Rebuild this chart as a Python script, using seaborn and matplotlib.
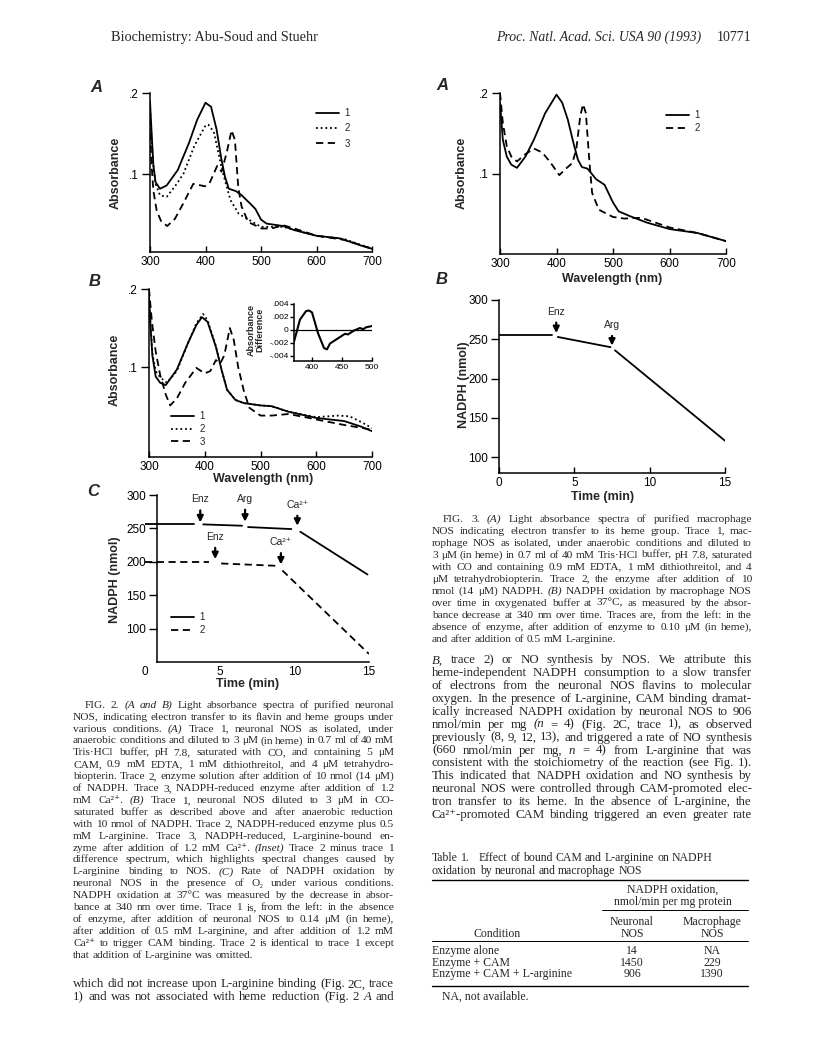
import numpy as np
import pandas as pd
import seaborn as sns
import matplotlib.pyplot as plt
from matplotlib.lines import Line2D

W, H = 816, 1055

# ---- Fig 2A spectra (wavelength nm, absorbance)
wl_2a_1 = [300, 303, 306, 310, 318, 330, 350, 370, 385, 400, 410, 420, 428, 435, 442, 455, 465, 480, 490, 500, 510, 540, 560, 600, 640, 650, 680, 700]
ab_2a_1 = [0.19, 0.15, 0.112, 0.09, 0.082, 0.086, 0.105, 0.138, 0.167, 0.188, 0.183, 0.155, 0.121, 0.097, 0.082, 0.079, 0.074, 0.064, 0.057, 0.044, 0.039, 0.036, 0.031, 0.024, 0.021, 0.019, 0.012, 0.008]
wl_2a_2 = [300, 303, 306, 310, 318, 330, 345, 360, 380, 400, 405, 415, 430, 445, 460, 480, 500, 540, 600, 650, 700]
ab_2a_2 = [0.18, 0.14, 0.11, 0.088, 0.074, 0.072, 0.085, 0.1, 0.135, 0.16, 0.161, 0.152, 0.105, 0.068, 0.051, 0.043, 0.035, 0.035, 0.024, 0.02, 0.008]
wl_2a_3 = [300, 303, 306, 312, 320, 331, 345, 360, 378, 399, 408, 421, 429, 438, 447, 453, 459, 465, 477, 501, 519, 540, 560, 600, 650, 700]
ab_2a_3 = [0.15, 0.11, 0.08, 0.055, 0.042, 0.036, 0.045, 0.064, 0.088, 0.085, 0.09, 0.11, 0.103, 0.126, 0.154, 0.142, 0.084, 0.06, 0.041, 0.033, 0.033, 0.037, 0.033, 0.024, 0.019, 0.008]

# ---- Fig 2B spectra
wl_2b_1 = [300, 303, 306, 312, 320, 330, 350, 370, 385, 395, 405, 420, 430, 440, 455, 470, 500, 520, 550, 600, 650, 680, 700]
ab_2b_1 = [0.19, 0.15, 0.115, 0.088, 0.08, 0.077, 0.097, 0.131, 0.154, 0.164, 0.158, 0.126, 0.097, 0.071, 0.058, 0.054, 0.051, 0.05, 0.043, 0.035, 0.031, 0.024, 0.018]
wl_2b_2 = [300, 303, 306, 312, 320, 332, 350, 370, 385, 397, 405, 420, 430, 440, 455, 470, 500, 520, 550, 600, 640, 660, 680, 700]
ab_2b_2 = [0.19, 0.15, 0.118, 0.095, 0.087, 0.08, 0.095, 0.131, 0.156, 0.168, 0.16, 0.127, 0.097, 0.071, 0.058, 0.054, 0.051, 0.05, 0.043, 0.036, 0.038, 0.037, 0.03, 0.022]
wl_2b_3 = [300, 305, 312, 320, 330, 338, 350, 365, 385, 400, 410, 420, 428, 435, 445, 452, 460, 470, 480, 500, 520, 550, 580, 600, 650, 700]
ab_2b_3 = [0.2, 0.16, 0.12, 0.09, 0.065, 0.051, 0.06, 0.08, 0.099, 0.092, 0.095, 0.109, 0.105, 0.115, 0.15, 0.135, 0.1, 0.07, 0.048, 0.038, 0.038, 0.04, 0.036, 0.033, 0.026, 0.02]

# ---- Fig 2B inset (difference spectrum)
wl_in = [370, 380, 390, 395, 400, 410, 420, 425, 430, 440, 450, 455, 460, 470, 480, 485, 490, 500]
df_in = [-0.0018, 0.0016, 0.0029, 0.003, 0.0027, -0.0005, -0.0028, -0.003, -0.0021, -0.0015, -0.0009, -0.0006, -0.0007, -0.0001, 0.0003, 0.0001, 0.0004, 0.0006]

# ---- Fig 3A spectra
wl_3a_1 = [300, 305, 312, 320, 330, 345, 360, 380, 400, 410, 420, 430, 438, 445, 455, 470, 485, 500, 510, 530, 560, 600, 650, 700]
ab_3a_1 = [0.188, 0.142, 0.121, 0.111, 0.107, 0.121, 0.142, 0.175, 0.198, 0.188, 0.167, 0.138, 0.117, 0.108, 0.106, 0.093, 0.086, 0.064, 0.053, 0.047, 0.039, 0.031, 0.026, 0.016]
wl_3a_2 = [300, 305, 312, 320, 330, 345, 360, 375, 390, 405, 415, 428, 435, 442, 447, 452, 458, 463, 475, 500, 520, 550, 600, 650, 700]
ab_3a_2 = [0.2, 0.163, 0.134, 0.121, 0.115, 0.124, 0.131, 0.126, 0.113, 0.098, 0.105, 0.113, 0.13, 0.171, 0.186, 0.175, 0.117, 0.076, 0.055, 0.046, 0.044, 0.045, 0.033, 0.026, 0.016]

# ---- Fig 2C NADPH traces (time min, nmol, segment id)
t_2c_1 = [0, 3.3, 3.9, 6.5, 6.9, 9.8, 10.4, 14.9]
v_2c_1 = [256, 256, 256, 254, 252, 249, 245, 181]
s_2c_1 = [0, 0, 1, 1, 2, 2, 3, 3]
t_2c_2 = [0, 4.3, 5.1, 8.8, 9.2, 15]
v_2c_2 = [200, 200, 197.5, 194, 187, 62]
s_2c_2 = [0, 0, 1, 1, 2, 2]
ev_2c_lab = ['Enz', 'Arg', 'Ca²⁺', 'Enz', 'Ca²⁺']
ev_2c_t = [3.7, 6.7, 10.2, 4.7, 9.1]
ev_2c_txt = [286, 287, 278, 230, 222]
ev_2c_head = [259, 260, 254, 204, 196]

# ---- Fig 3B NADPH trace
t_3b = [0, 3.5, 3.9, 7.4, 7.7, 15]
v_3b = [256, 256, 253, 240, 236, 121]
s_3b = [0, 0, 1, 1, 2, 2]
ev_3b_lab = ['Enz', 'Arg']
ev_3b_t = [3.8, 7.5]
ev_3b_txt = [279, 262]
ev_3b_head = [258, 242]

# ---- Table 1
tab_cond = ['Enzyme alone', 'Enzyme + CAM', 'Enzyme + CAM + L-arginine']
tab_neur = ['14', '1450', '906']
tab_macro = ['NA', '229', '1390']

cap2 = [
    "FIG. 2. ~(A ~and ~B) Light absorbance spectra of purified neuronal",
    "NOS, indicating electron transfer to its flavin and heme groups under",
    "various conditions. ~(A) Trace 1, neuronal NOS as isolated, under",
    "anaerobic conditions and diluted to 3 μM (in heme) in 0.7 ml of 40 mM",
    "Tris·HCl buffer, pH 7.8, saturated with CO, and containing 5 μM",
    "CAM, 0.9 mM EDTA, 1 mM dithiothreitol, and 4 μM tetrahydro-",
    "biopterin. Trace 2, enzyme solution after addition of 10 nmol (14 μM)",
    "of NADPH. Trace 3, NADPH-reduced enzyme after addition of 1.2",
    "mM Ca²⁺. ~(B) Trace 1, neuronal NOS diluted to 3 μM in CO-",
    "saturated buffer as described above and after anaerobic reduction",
    "with 10 nmol of NADPH. Trace 2, NADPH-reduced enzyme plus 0.5",
    "mM L-arginine. Trace 3, NADPH-reduced, L-arginine-bound en-",
    "zyme after addition of 1.2 mM Ca²⁺. ~(Inset) Trace 2 minus trace 1",
    "difference spectrum, which highlights spectral changes caused by",
    "L-arginine binding to NOS. ~(C) Rate of NADPH oxidation by",
    "neuronal NOS in the presence of O₂ under various conditions.",
    "NADPH oxidation at 37°C was measured by the decrease in absor-",
    "bance at 340 nm over time. Trace 1 is, from the left: in the absence",
    "of enzyme, after addition of neuronal NOS to 0.14 μM (in heme),",
    "after addition of 0.5 mM L-arginine, and after addition of 1.2 mM",
    "Ca²⁺ to trigger CAM binding. Trace 2 is identical to trace 1 except",
    "that addition of L-arginine was omitted.",
]
cap3 = [
    "FIG. 3. ~(A) Light absorbance spectra of purified macrophage",
    "NOS indicating electron transfer to its heme group. Trace 1, mac-",
    "rophage NOS as isolated, under anaerobic conditions and diluted to",
    "3 μM (in heme) in 0.7 ml of 40 mM Tris·HCl buffer, pH 7.8, saturated",
    "with CO and containing 0.9 mM EDTA, 1 mM dithiothreitol, and 4",
    "μM tetrahydrobiopterin. Trace 2, the enzyme after addition of 10",
    "nmol (14 μM) NADPH. ~(B) NADPH oxidation by macrophage NOS",
    "over time in oxygenated buffer at 37°C, as measured by the absor-",
    "bance decrease at 340 nm over time. Traces are, from the left: in the",
    "absence of enzyme, after addition of enzyme to 0.10 μM (in heme),",
    "and after addition of 0.5 mM L-arginine.",
]
body_left = [
    "which did not increase upon L-arginine binding (Fig. 2C, trace",
    "1) and was not associated with heme reduction (Fig. 2 ~A and",
]
body_right = [
    "~B, trace 2) or NO synthesis by NOS. We attribute this",
    "heme-independent NADPH consumption to a slow transfer",
    "of electrons from the neuronal NOS flavins to molecular",
    "oxygen. In the presence of L-arginine, CAM binding dramat-",
    "ically increased NADPH oxidation by neuronal NOS to 906",
    "nmol/min per mg ~(n = 4) (Fig. 2C, trace 1), as observed",
    "previously (8, 9, 12, 13), and triggered a rate of NO synthesis",
    "(660 nmol/min per mg, ~n = 4) from L-arginine that was",
    "consistent with the stoichiometry of the reaction (see Fig. 1).",
    "This indicated that NADPH oxidation and NO synthesis by",
    "neuronal NOS were controlled through CAM-promoted elec-",
    "tron transfer to its heme. In the absence of L-arginine, the",
    "Ca²⁺-promoted CAM binding triggered an even greater rate",
]

sns.set_theme(style='ticks')
SANS = ['Liberation Sans', 'DejaVu Sans']
SERIF = ['Liberation Serif', 'DejaVu Serif']
plt.rcParams['font.family'] = SANS
plt.rcParams['axes.edgecolor'] = 'black'
plt.rcParams['xtick.color'] = 'black'
plt.rcParams['ytick.color'] = 'black'

fig = plt.figure(figsize=(W / 100, H / 100), dpi=100)
fig.patch.set_facecolor('white')


def fx(x):
    return x / W


def fy(y):
    return 1 - y / H


def ax_at(l, t, r, b):
    return fig.add_axes([l / W, 1 - b / H, (r - l) / W, (b - t) / H])


def style(ax, size=8.5):
    sns.despine(ax=ax)
    for s in ['left', 'bottom']:
        ax.spines[s].set_linewidth(1.1)
        ax.spines[s].set_color('black')
    ax.tick_params(axis='x', direction='in', length=4, width=1, labelsize=size, pad=3)
    ax.tick_params(axis='y', direction='out', length=6, width=1, labelsize=size, pad=2)
    ax.grid(False)
    ax.set_facecolor('white')
    ax.patch.set_alpha(0)


SOLID = '-'
DOT = (0, (1, 1.6))
DASH = (0, (4, 2.5))
LW = 1.3


def spectrum(ax, xs, ys, ls, lab):
    sns.lineplot(x=xs, y=ys, ax=ax, color='black', lw=LW, linestyle=ls, label=lab)


def ylab(ax, txt, xr, yc, size=9):
    ax.set_ylabel(txt, fontsize=size, fontweight='bold')
    ax.yaxis.set_label_coords(fx(xr), fy(yc), transform=fig.transFigure)


def xlab(ax, txt, xc, yt, size=9):
    ax.set_xlabel(txt, fontsize=size, fontweight='bold')
    ax.xaxis.set_label_coords(fx(xc), fy(yt), transform=fig.transFigure)


def legend(ax, x, y, spacing):
    h, l = ax.get_legend_handles_labels()
    ax.legend(h, l, loc='upper left', bbox_to_anchor=(fx(x), fy(y)), bbox_transform=fig.transFigure,
              frameon=False, fontsize=7, handlelength=2.4, handletextpad=0.5, labelspacing=spacing,
              borderpad=0, borderaxespad=0)


def panel(x, y, letter):
    fig.text(fx(x), fy(y), letter, fontsize=12, fontweight='bold', style='italic', ha='center', va='center')


spec_ticks = [300, 400, 500, 600, 700]

# ---------------- Fig 2A
ax = ax_at(150, 93, 372, 252)
spectrum(ax, wl_2a_1, ab_2a_1, SOLID, '1')
spectrum(ax, wl_2a_2, ab_2a_2, DOT, '2')
spectrum(ax, wl_2a_3, ab_2a_3, DASH, '3')
ax.set_xlim(300, 700)
ax.set_ylim(0.004, 0.2)
ax.set_xticks(spec_ticks)
ax.set_yticks([0.1, 0.2], ['.1', '.2'])
style(ax)
ylab(ax, 'Absorbance', 122, 173)
ax.set_xlabel('')
legend(ax, 316, 108, 0.55)
panel(96, 87, 'A')

# ---------------- Fig 2B
ax = ax_at(149, 289, 372, 457)
spectrum(ax, wl_2b_1, ab_2b_1, SOLID, '1')
spectrum(ax, wl_2b_2, ab_2b_2, DOT, '2')
spectrum(ax, wl_2b_3, ab_2b_3, DASH, '3')
ax.set_xlim(300, 700)
ax.set_ylim(-0.015, 0.2)
ax.set_xticks(spec_ticks)
ax.set_yticks([0.1, 0.2], ['.1', '.2'])
style(ax)
ylab(ax, 'Absorbance', 121, 370)
xlab(ax, 'Wavelength (nm)', 263, 473)
legend(ax, 171, 411, 0.3)
panel(95, 281, 'B')

# inset
ax = ax_at(294, 304, 372, 361)
sns.lineplot(x=wl_in, y=df_in, ax=ax, color='black', lw=1.5)
ax.axhline(0, color='black', lw=0.9)
ax.set_xlim(370, 500)
ax.set_ylim(-0.0048, 0.004)
ax.set_xticks([400, 450, 500])
ax.set_yticks([0.004, 0.002, 0, -0.002, -0.004], ['.004', '.002', '0', '-.002', '-.004'])
style(ax, size=6)
ax.tick_params(axis='y', length=3, pad=1)
ax.tick_params(axis='x', length=3, pad=2)
ylab(ax, 'Absorbance\nDifference', 264, 330, size=6.5)
ax.yaxis.label.set_linespacing(0.95)

# ---------------- Fig 2C  (time axis starts left of the y spine, as in the print)
ax = ax_at(145, 495, 369, 662)
d1 = pd.DataFrame({'t': t_2c_1, 'v': v_2c_1, 'seg': s_2c_1})
d2 = pd.DataFrame({'t': t_2c_2, 'v': v_2c_2, 'seg': s_2c_2})
sns.lineplot(data=d1, x='t', y='v', units='seg', estimator=None, ax=ax, color='black', lw=LW, linestyle=SOLID)
sns.lineplot(data=d2, x='t', y='v', units='seg', estimator=None, ax=ax, color='black', lw=LW, linestyle=DASH)
for lab, t, yt, yh in zip(ev_2c_lab, ev_2c_t, ev_2c_txt, ev_2c_head):
    ax.annotate(lab, xy=(t, yh), xytext=(t, yt), ha='center', va='bottom', fontsize=7.5,
                arrowprops=dict(arrowstyle='-|>', color='black', lw=1.6, mutation_scale=9, shrinkA=2, shrinkB=0))
ax.set_xlim(0, 15)
ax.set_ylim(50, 300)
ax.set_xticks([0, 5, 10, 15])
ax.set_xticks([5, 10, 15], minor=True)
ax.set_yticks([100, 150, 200, 250, 300])
style(ax)
ax.spines['left'].set_position(('data', 0.8))
ax.spines['bottom'].set_bounds(0.8, 15)
ax.tick_params(axis='x', which='major', length=0)
ax.tick_params(axis='x', which='minor', direction='in', length=4, width=1)
ax.tick_params(axis='y', which='minor', length=0)
ylab(ax, 'NADPH (nmol)', 121, 580)
xlab(ax, 'Time (min)', 248, 678)
h = [Line2D([], [], color='black', lw=LW, linestyle=SOLID), Line2D([], [], color='black', lw=LW, linestyle=DASH)]
ax.legend(h, ['1', '2'], loc='upper left', bbox_to_anchor=(fx(171), fy(612)), bbox_transform=fig.transFigure,
          frameon=False, fontsize=7, handlelength=2.4, handletextpad=0.5, labelspacing=0.3,
          borderpad=0, borderaxespad=0)
panel(93, 491, 'C')

# ---------------- Fig 3A
ax = ax_at(500, 93, 726, 254)
spectrum(ax, wl_3a_1, ab_3a_1, SOLID, '1')
spectrum(ax, wl_3a_2, ab_3a_2, DASH, '2')
ax.set_xlim(300, 700)
ax.set_ylim(0, 0.2)
ax.set_xticks(spec_ticks)
ax.set_yticks([0.1, 0.2], ['.1', '.2'])
style(ax)
ylab(ax, 'Absorbance', 468, 173)
xlab(ax, 'Wavelength (nm)', 612, 273)
legend(ax, 666, 110, 0.3)
panel(442, 85, 'A')

# ---------------- Fig 3B
ax = ax_at(499, 300, 725, 473)
d3 = pd.DataFrame({'t': t_3b, 'v': v_3b, 'seg': s_3b})
sns.lineplot(data=d3, x='t', y='v', units='seg', estimator=None, ax=ax, color='black', lw=LW)
for lab, t, yt, yh in zip(ev_3b_lab, ev_3b_t, ev_3b_txt, ev_3b_head):
    ax.annotate(lab, xy=(t, yh), xytext=(t, yt), ha='center', va='bottom', fontsize=7.5,
                arrowprops=dict(arrowstyle='-|>', color='black', lw=1.6, mutation_scale=9, shrinkA=2, shrinkB=0))
ax.set_xlim(0, 15)
ax.set_ylim(80, 300)
ax.set_xticks([0, 5, 10, 15])
ax.set_yticks([100, 150, 200, 250, 300])
style(ax)
ylab(ax, 'NADPH (nmol)', 470, 385)
xlab(ax, 'Time (min)', 603, 491)
panel(442, 279, 'B')

# ---------------- page text
renderer = fig.canvas.get_renderer()


def put_line(x0, x1, yc, line, size, justify=True):
    yb = yc + 0.33 * size * 100 / 72
    arts = []
    for w in line.split(' '):
        st = 'normal'
        if w.startswith('~'):
            st, w = 'italic', w[1:]
        arts.append(fig.text(0, fy(yb), w, fontsize=size, family=SERIF, style=st, va='baseline', ha='left'))
    ws = [a.get_window_extent(renderer).width for a in arts]
    sp = 0.25 * size * 100 / 72
    if justify and len(arts) > 1:
        sp = max((x1 - x0 - sum(ws)) / (len(arts) - 1), 0.12 * size * 100 / 72)
    x = x0
    for a, w in zip(arts, ws):
        a.set_x(fx(x))
        x += w + sp


def paragraph(lines, x0, x1, y0, dy, size, indent=0, last_ragged=True):
    for i, ln in enumerate(lines):
        xs = x0 + (indent if i == 0 else 0)
        just = not (last_ragged and i == len(lines) - 1)
        put_line(xs, x1, y0 + i * dy, ln, size, just)


LX0, LX1 = 73, 394
RX0, RX1 = 432, 752

CAP = 8.2
BODY = 9.3
paragraph(cap2, LX0, LX1, 704, 11.9, CAP, indent=12)
paragraph(body_left, LX0, LX1, 983, 13.2, BODY, last_ragged=False)
paragraph(cap3, RX0, RX1, 518, 12.0, CAP, indent=11)
paragraph(body_right, RX0, RX1, 659, 12.9, BODY, last_ragged=False)

# header
fig.text(fx(111), fy(41), 'Biochemistry: Abu-Soud and Stuehr', fontsize=10.3, family=SERIF, va='baseline')
fig.text(fx(701), fy(41), 'Proc. Natl. Acad. Sci. USA 90 (1993)', fontsize=9.9, family=SERIF, style='italic', ha='right', va='baseline')
fig.text(fx(751), fy(41), '10771', fontsize=10, family=SERIF, ha='right', va='baseline')

# table 1
TS = 8.5
put_line(RX0, RX1, 857, 'Table 1.   Effect of bound CAM and L-arginine on NADPH', TS, False)
put_line(RX0, RX1, 870, 'oxidation by neuronal and macrophage NOS', TS, False)


def rule(y, x0, x1, lw):
    fig.add_artist(Line2D([fx(x0), fx(x1)], [fy(y), fy(y)], color='black', lw=lw, transform=fig.transFigure))


def ctext(x, yc, s, size=TS, ha='center'):
    fig.text(fx(x), fy(yc + 0.33 * size * 100 / 72), s, fontsize=size, family=SERIF, ha=ha, va='baseline')


TR = 748
rule(880, RX0, TR, 1.0)
ctext(673, 889, 'NADPH oxidation,')
ctext(673, 901, 'nmol/min per mg protein')
rule(910, 602, TR, 0.7)
ctext(632, 921, 'Neuronal')
ctext(712, 921, 'Macrophage')
ctext(497, 933, 'Condition')
ctext(632, 933, 'NOS')
ctext(712, 933, 'NOS')
rule(941, RX0, TR, 0.7)
for i, (c, n, m) in enumerate(zip(tab_cond, tab_neur, tab_macro)):
    yc = 950 + i * 11.8
    ctext(RX0, yc, c, ha='left')
    ctext(632, yc, n)
    ctext(712, yc, m)
rule(986, RX0, TR, 1.0)
ctext(442, 996, 'NA, not available.', ha='left')

fig.savefig('out.png', dpi=100, facecolor='white')
